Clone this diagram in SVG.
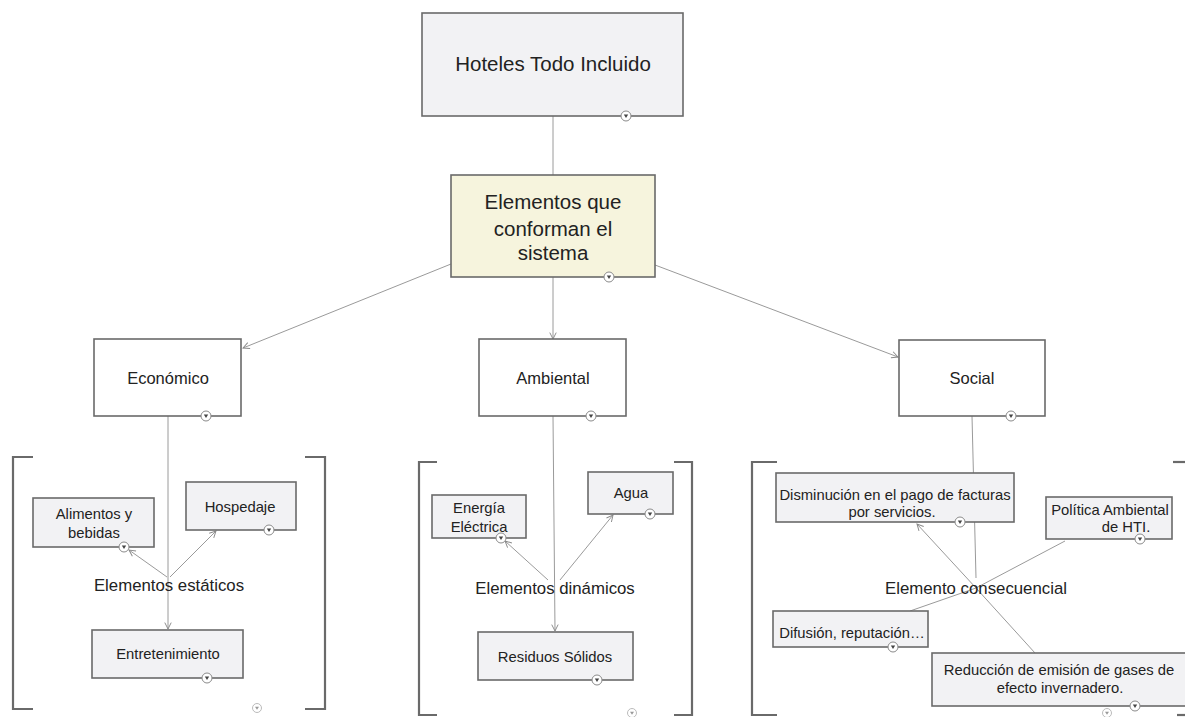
<svg xmlns="http://www.w3.org/2000/svg" xmlns:xlink="http://www.w3.org/1999/xlink" width="1185" height="717" viewBox="0 0 1185 717">
<style>
.box{stroke:#6a6a6a;stroke-width:1.6;fill:#f2f2f4}
.cat{stroke:#6a6a6a;stroke-width:1.6;fill:#ffffff}
.t{font-family:"Liberation Sans",Arial,sans-serif;fill:#222;text-anchor:middle}
.big{font-size:20.5px}
.mid{font-size:16.5px}
.sm{font-size:14.8px}
.lbl{font-size:16.8px}
.con{stroke:#9a9a9a;stroke-width:1;fill:none}
.br{stroke:#6a6a6a;stroke-width:2.2;fill:none}
</style>
<defs>
<marker id="ah" viewBox="0 0 10 10" refX="9" refY="5" markerWidth="8" markerHeight="8" orient="auto" markerUnits="userSpaceOnUse">
<path d="M1,1 L9,5 L1,9" fill="none" stroke="#8a8a8a" stroke-width="1.2"/>
</marker>
<g id="tg">
<circle cx="0" cy="0" r="5" fill="#fff" stroke="#8a8a8a" stroke-width="1"/>
<path d="M-2.2,-1.5 L2.2,-1.5 L0,2 Z" fill="#444"/>
</g>
<g id="tgf">
<circle cx="0" cy="0" r="4.5" fill="#fff" stroke="#bbb" stroke-width="1"/>
<path d="M-2,-1.3 L2,-1.3 L0,1.8 Z" fill="#999"/>
</g>
</defs>
<rect width="1185" height="717" fill="#fff"/>

<g id="connectors">
<line class="con" x1="553" y1="116" x2="553" y2="175"/>
<line class="con" x1="451" y1="264" x2="243" y2="348" marker-end="url(#ah)"/>
<line class="con" x1="553" y1="277" x2="553" y2="339" marker-end="url(#ah)"/>
<line class="con" x1="655" y1="265" x2="898" y2="357" marker-end="url(#ah)"/>
<line class="con" x1="168" y1="416" x2="168" y2="629" marker-end="url(#ah)"/>
<line class="con" x1="167" y1="577" x2="129" y2="550" marker-end="url(#ah)"/>
<line class="con" x1="170" y1="577" x2="216" y2="531" marker-end="url(#ah)"/>
<line class="con" x1="553" y1="416" x2="555" y2="631" marker-end="url(#ah)"/>
<line class="con" x1="548" y1="580" x2="505" y2="541" marker-end="url(#ah)"/>
<line class="con" x1="560" y1="580" x2="613" y2="515" marker-end="url(#ah)"/>
<line class="con" x1="972" y1="416" x2="976" y2="578"/>
<line class="con" x1="976" y1="588" x2="917" y2="524" marker-end="url(#ah)"/>
<line class="con" x1="976" y1="588" x2="1035" y2="653"/>
<line class="con" x1="976" y1="588" x2="1065" y2="541"/>
<line class="con" x1="976" y1="588" x2="910" y2="611"/>
</g>

<g id="brackets">
<path class="br" d="M33,457 H13 V709 H33"/>
<path class="br" d="M305,457 H325 V709 H305"/>
<path class="br" d="M437,462 H419 V715 H437"/>
<path class="br" d="M674,462 H692 V715 H674"/>
<path class="br" d="M777,462 H752 V715 H777"/>
<path class="br" d="M1173,462 H1186"/>
<path class="br" d="M1177,715 H1186"/>
</g>

<g id="hoteles">
<rect class="box" x="422" y="13" width="261" height="103" fill="#f3f3f5"/>
<text class="t big" x="553" y="71">Hoteles Todo Incluido</text>
<use href="#tg" x="626" y="116"/>
</g>

<g id="elementos">
<rect class="box" x="451" y="175" width="204" height="102" style="fill:#f6f4dd"/>
<text class="t big" x="553" y="209">Elementos que</text>
<text class="t big" x="553" y="236">conforman el</text>
<text class="t big" x="553" y="260">sistema</text>
<use href="#tg" x="609" y="277"/>
</g>

<g id="economico">
<rect class="cat" x="94" y="339" width="147" height="77"/>
<text class="t mid" x="168" y="384">Económico</text>
<use href="#tg" x="206" y="416"/>
</g>

<g id="ambiental">
<rect class="cat" x="479" y="339" width="147" height="77"/>
<text class="t mid" x="553" y="384">Ambiental</text>
<use href="#tg" x="591" y="416"/>
</g>

<g id="social">
<rect class="cat" x="899" y="340" width="146" height="76"/>
<text class="t mid" x="972" y="384">Social</text>
<use href="#tg" x="1011" y="416"/>
</g>

<g id="alimentos">
<rect class="box" x="33" y="498" width="121" height="49"/>
<text class="t sm" x="94" y="519">Alimentos y</text>
<text class="t sm" x="94" y="538">bebidas</text>
<use href="#tg" x="124" y="547"/>
</g>

<g id="hospedaje">
<rect class="box" x="186" y="482" width="110" height="48"/>
<text class="t sm" x="240" y="512">Hospedaje</text>
<use href="#tg" x="269" y="530"/>
</g>

<g id="estaticos">
<text class="t lbl" x="169" y="591">Elementos estáticos</text>
</g>

<g id="entretenimiento">
<rect class="box" x="92" y="630" width="151" height="48"/>
<text class="t sm" x="168" y="659">Entretenimiento</text>
<use href="#tg" x="207" y="678"/>
</g>
<use href="#tgf" x="257" y="708"/>

<g id="energia">
<rect class="box" x="432" y="495" width="94" height="43"/>
<text class="t sm" x="479" y="513">Energía</text>
<text class="t sm" x="479" y="532">Eléctrica</text>
<use href="#tg" x="501" y="538"/>
</g>

<g id="agua">
<rect class="box" x="588" y="472" width="85" height="42"/>
<text class="t sm" x="631" y="498">Agua</text>
<use href="#tg" x="650" y="514"/>
</g>

<g id="dinamicos">
<text class="t lbl" x="555" y="594">Elementos dinámicos</text>
</g>

<g id="residuos">
<rect class="box" x="478" y="632" width="155" height="48"/>
<text class="t sm" x="555" y="662">Residuos Sólidos</text>
<use href="#tg" x="597" y="680"/>
</g>
<use href="#tgf" x="632" y="713"/>

<g id="disminucion">
<rect class="box" x="776" y="473" width="238" height="49"/>
<text class="t sm" x="895" y="500">Disminución en el pago de facturas</text>
<text class="t sm" x="892" y="517">por servicios.</text>
<use href="#tg" x="960" y="522"/>
</g>

<g id="politica">
<rect class="box" x="1046" y="497" width="126" height="42"/>
<text class="t sm" x="1110" y="515">Política Ambiental</text>
<text class="t sm" x="1126" y="532">de HTI.</text>
<use href="#tg" x="1140" y="539"/>
</g>

<g id="consecuencial">
<text class="t lbl" x="976" y="594">Elemento consecuencial</text>
</g>

<g id="difusion">
<rect class="box" x="773" y="611" width="155" height="36"/>
<text class="t sm" x="852" y="638">Difusión, reputación…</text>
<use href="#tg" x="893" y="647"/>
</g>

<g id="reduccion">
<rect class="box" x="932" y="653" width="255" height="53"/>
<text class="t sm" x="1059" y="675">Reducción de emisión de gases de</text>
<text class="t sm" x="1060" y="693">efecto invernadero.</text>
<use href="#tg" x="1135" y="706"/>
</g>
<use href="#tgf" x="1107" y="713"/>
</svg>
